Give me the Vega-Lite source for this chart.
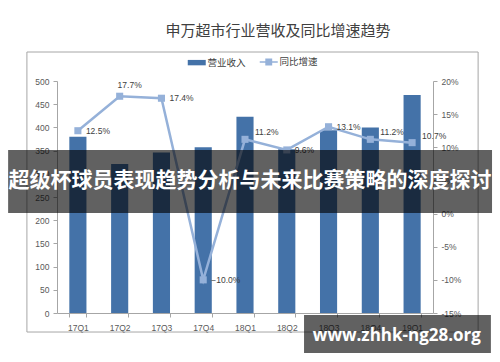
{
  "$schema": "https://vega.github.io/schema/vega-lite/v6.json",
  "autosize": {"type": "none"},
  "width": 376,
  "height": 232,
  "padding": {"left": 57, "top": 81, "right": 67, "bottom": 49},
  "background": "white",
  "title": {
    "text": "申万超市行业营收及同比增速趋势",
    "font": "Noto Sans CJK SC",
    "fontSize": 15,
    "fontWeight": "normal",
    "color": "#404040",
    "anchor": "middle",
    "frame": "group",
    "dx": 33,
    "offset": 13
  },
  "config": {
    "view": {"stroke": null},
    "axis": {
      "labelFont": "Liberation Sans",
      "labelFontSize": 8.5,
      "labelColor": "#595959",
      "domainColor": "#a6a6a6",
      "tickColor": "#a6a6a6",
      "tickSize": 4,
      "grid": false,
      "title": null
    }
  },
  "datasets": {
    "main": [
      {"q": "17Q1", "rev": 380, "yoy": 12.5},
      {"q": "17Q2", "rev": 321, "yoy": 17.7},
      {"q": "17Q3", "rev": 346, "yoy": 17.4},
      {"q": "17Q4", "rev": 357, "yoy": -10.0},
      {"q": "18Q1", "rev": 423, "yoy": 11.2},
      {"q": "18Q2", "rev": 353, "yoy": 9.6},
      {"q": "18Q3", "rev": 394, "yoy": 13.1},
      {"q": "18Q4", "rev": 400, "yoy": 11.2},
      {"q": "19Q1", "rev": 470, "yoy": 10.7}
    ],
    "overlay": [
      {"banner": "超级杯球员表现趋势分析与未来比赛策略的深度探讨", "site": "www.zhhk-ng28.org"}
    ]
  },
  "layer": [
    {
      "data": {"name": "main"},
      "layer": [
        {
          "mark": {"type": "bar", "color": "#4472a8"},
          "encoding": {
            "x": {
              "field": "q", "type": "nominal", "sort": null,
              "scale": {"paddingInner": 0.59, "paddingOuter": 0.295},
              "axis": {"labelAngle": 0, "tickBand": "extent", "labelPadding": 6}
            },
            "y": {
              "field": "rev", "type": "quantitative",
              "scale": {"domain": [0, 500], "nice": false},
              "axis": {"values": [0, 50, 100, 150, 200, 250, 300, 350, 400, 450, 500], "labelPadding": 4}
            },
            "color": {
              "datum": "营业收入",
              "scale": {"domain": ["营业收入", "同比增速"], "range": ["#4472a8", "#95b1d9"]},
              "legend": {
                "orient": "none",
                "legendX": 135,
                "legendY": -24,
                "direction": "horizontal",
                "title": null,
                "labelFont": "Noto Sans CJK SC",
                "labelFontSize": 9.5,
                "labelColor": "#404040",
                "columnPadding": 10,
                "symbolSize": 324,
                "labelOffset": 6,
                "encode": {
                  "symbols": {
                    "update": {
                      "shape": {"signal": "datum.value === '营业收入' ? 'M-1,-0.3H1V0.3H-1Z' : 'M-1,0H1M-0.3,-0.3H0.3V0.3H-0.3Z'"},
                      "fill": {"scale": "color", "field": "value"},
                      "stroke": {"scale": "color", "field": "value"},
                      "strokeWidth": {"signal": "datum.value === '营业收入' ? 0 : 1.5"},
                      "size": {"value": 324},
                      "opacity": {"value": 1},
                      "fillOpacity": {"value": 1}
                    }
                  }
                }
              }
            }
          }
        },
        {
          "transform": [{"calculate": "format(datum.yoy, '.1f') + '%'", "as": "lbl"}],
          "encoding": {
            "x": {"field": "q", "type": "nominal", "sort": null},
            "y": {
              "field": "yoy", "type": "quantitative",
              "scale": {"domain": [-15, 20], "nice": false},
              "axis": {"orient": "right", "values": [-15, -10, -5, 0, 5, 10, 15, 20], "labelExpr": "datum.value + '%'", "labelPadding": 4}
            }
          },
          "layer": [
            {
              "mark": {"type": "line", "strokeWidth": 2.5},
              "encoding": {"color": {"datum": "同比增速"}}
            },
            {
              "mark": {"type": "point", "shape": "square", "filled": true, "size": 50, "opacity": 1},
              "encoding": {"color": {"datum": "同比增速"}}
            },
            {
              "transform": [{"filter": "indexof(['17Q1','17Q3','17Q4','18Q2','18Q3'], datum.q) >= 0"}],
              "mark": {"type": "text", "align": "left", "baseline": "middle", "dx": 8, "dy": 0, "font": "Liberation Sans", "fontSize": 8.5, "color": "#404040"},
              "encoding": {"text": {"field": "lbl"}}
            },
            {
              "transform": [{"filter": "indexof(['18Q1','18Q4','19Q1'], datum.q) >= 0"}],
              "mark": {"type": "text", "align": "left", "baseline": "middle", "dx": 10, "dy": -7, "font": "Liberation Sans", "fontSize": 8.5, "color": "#404040"},
              "encoding": {"text": {"field": "lbl"}}
            },
            {
              "transform": [{"filter": "datum.q === '17Q2'"}],
              "mark": {"type": "text", "align": "center", "baseline": "middle", "dx": 10, "dy": -11, "font": "Liberation Sans", "fontSize": 8.5, "color": "#404040"},
              "encoding": {"text": {"field": "lbl"}}
            }
          ]
        }
      ],
      "resolve": {"scale": {"y": "independent"}}
    },
    {
      "data": {"name": "overlay"},
      "layer": [
        {
          "mark": {"type": "rect", "fill": null, "filled": false, "stroke": "#a6a6a6", "strokeWidth": 1, "clip": false},
          "encoding": {
            "x": {"datum": -0.08, "type": "quantitative", "scale": {"domain": [0, 1], "nice": false, "zero": false}, "axis": null},
            "x2": {"datum": 1.12},
            "y": {"datum": -0.082, "type": "quantitative", "scale": {"domain": [0, 1], "nice": false, "zero": false}, "axis": null},
            "y2": {"datum": 1.125}
          }
        },
        {
          "mark": {"type": "rect", "fill": "black", "opacity": 0.62, "clip": false},
          "encoding": {
            "x": {"datum": -0.13, "type": "quantitative"},
            "x2": {"datum": 1.157},
            "y": {"datum": 0.431, "type": "quantitative"},
            "y2": {"datum": 0.703}
          }
        },
        {
          "mark": {"type": "text", "color": "white", "font": "Noto Sans CJK SC", "fontWeight": "bold", "fontSize": 21, "align": "center", "baseline": "middle"},
          "encoding": {
            "x": {"datum": 0.513, "type": "quantitative"},
            "y": {"datum": 0.569, "type": "quantitative"},
            "text": {"field": "banner"}
          }
        },
        {
          "mark": {"type": "rect", "fill": "black", "opacity": 0.62, "clip": false},
          "encoding": {
            "x": {"datum": 0.657, "type": "quantitative"},
            "x2": {"datum": 1.154},
            "y": {"datum": -0.172, "type": "quantitative"},
            "y2": {"datum": -0.009}
          }
        },
        {
          "mark": {"type": "text", "color": "white", "font": "Open Sans", "fontWeight": "bold", "fontSize": 17, "align": "center", "baseline": "middle"},
          "encoding": {
            "x": {"datum": 0.904, "type": "quantitative"},
            "y": {"datum": -0.099, "type": "quantitative"},
            "text": {"field": "site"}
          }
        }
      ]
    }
  ],
  "resolve": {"scale": {"x": "independent", "y": "independent"}}
}
